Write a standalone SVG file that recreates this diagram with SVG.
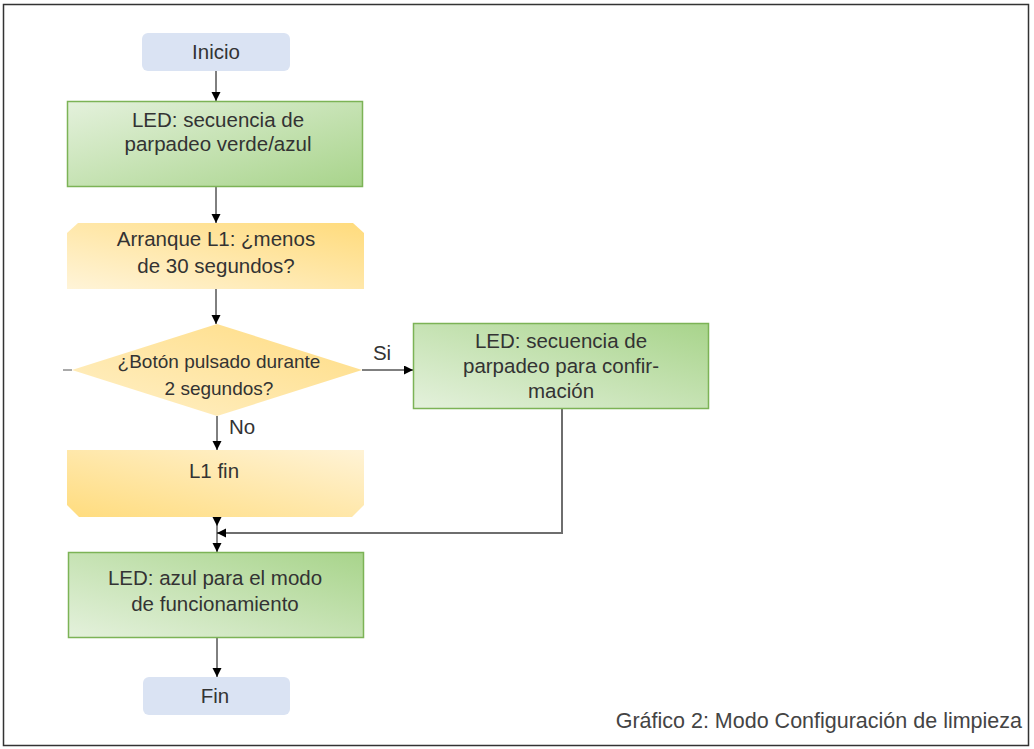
<svg xmlns="http://www.w3.org/2000/svg" width="1034" height="749" viewBox="0 0 1034 749">
<defs>
<style>
.t{font-family:"Liberation Sans",Arial,sans-serif;font-size:20.5px;fill:#333;text-anchor:middle}
.d{font-size:19px}
.term{fill:#dae3f3}
.green{stroke:#7cb356;stroke-width:1.5}
.ln{stroke:#000;stroke-width:1;fill:none}
.gl{stroke:#6e6e6e;stroke-width:2;fill:none}
</style>
<linearGradient id="g1" x1="0" y1="0" x2="1" y2="1">
<stop offset="0" stop-color="#e4f1dc"/><stop offset="1" stop-color="#a8d48b"/>
</linearGradient>
<linearGradient id="g2" x1="0" y1="1" x2="1" y2="0">
<stop offset="0" stop-color="#e4f1dc"/><stop offset="1" stop-color="#a8d48b"/>
</linearGradient>
<linearGradient id="y1" x1="0" y1="1" x2="1" y2="0">
<stop offset="0" stop-color="#fff4d8"/><stop offset="1" stop-color="#ffdb7c"/>
</linearGradient>
<linearGradient id="y2" x1="0" y1="1" x2="1" y2="0">
<stop offset="0" stop-color="#ffdc7e"/><stop offset="1" stop-color="#fff3d6"/>
</linearGradient>
<linearGradient id="y3" x1="0" y1="1" x2="1" y2="0">
<stop offset="0" stop-color="#fff0c8"/><stop offset="1" stop-color="#ffdc82"/>
</linearGradient>
<marker id="ah" markerWidth="10" markerHeight="10" refX="9" refY="4.5" orient="auto" markerUnits="userSpaceOnUse">
<path d="M0,0 L9,4.5 L0,9 Z" fill="#000"/>
</marker>
</defs>
<rect x="3.5" y="4.5" width="1025" height="741" fill="#fff" stroke="#333" stroke-width="1.5"/>

<g id="connectors">
<line class="ln" x1="216" y1="71" x2="216" y2="101" marker-end="url(#ah)"/>
<line class="ln" x1="216" y1="187" x2="216" y2="223" marker-end="url(#ah)"/>
<line class="ln" x1="216" y1="289" x2="216" y2="324" marker-end="url(#ah)"/>
<line class="ln" x1="362" y1="370" x2="413" y2="370" marker-end="url(#ah)"/>
<line class="ln" x1="217" y1="416" x2="217" y2="450" marker-end="url(#ah)"/>
<line class="ln" x1="217" y1="517" x2="217" y2="526" marker-end="url(#ah)"/>
<line x1="217" y1="526" x2="217" y2="543" stroke="#888" stroke-width="2"/>
<line class="ln" x1="217" y1="543" x2="217" y2="552" marker-end="url(#ah)"/>
<polyline class="gl" points="562,409 562,533 226,533"/>
<line class="ln" x1="226" y1="533" x2="217" y2="533" marker-end="url(#ah)"/>
<line class="ln" x1="217" y1="637" x2="217" y2="677" marker-end="url(#ah)"/>
<line x1="63" y1="370" x2="72" y2="370" stroke="#555" stroke-width="1"/>
<text class="t" x="382" y="360">Si</text>
<text class="t" x="242" y="434">No</text>
</g>

<g id="inicio">
<rect class="term" x="142" y="33" width="148" height="38" rx="6"/>
<text class="t" x="216" y="59">Inicio</text>
</g>

<g id="led1">
<rect class="green" x="67.5" y="101.5" width="295" height="85" fill="url(#g1)"/>
<text class="t" x="218" y="127">LED: secuencia de</text>
<text class="t" x="218" y="151">parpadeo verde/azul</text>
</g>

<g id="arranque">
<polygon points="67,233 78,223 353,223 364,233 364,289 67,289" fill="url(#y1)"/>
<text class="t" x="216" y="246">Arranque L1: ¿menos</text>
<text class="t" x="216" y="273">de 30 segundos?</text>
</g>

<g id="decision">
<polygon points="72,370 217,324 362,370 217,416" fill="url(#y3)"/>
<text class="t d" x="219" y="368">¿Botón pulsado durante</text>
<text class="t d" x="219" y="395">2 segundos?</text>
</g>

<g id="led-confirm">
<rect class="green" x="413.5" y="323.5" width="295" height="85" fill="url(#g2)"/>
<text class="t" x="561" y="348">LED: secuencia de</text>
<text class="t" x="561" y="373">parpadeo para confir-</text>
<text class="t" x="561" y="398">mación</text>
</g>

<g id="l1fin">
<polygon points="67,450 364,450 364,505 352,517 79,517 67,505" fill="url(#y2)"/>
<text class="t" x="214" y="478">L1 fin</text>
</g>

<g id="led-azul">
<rect class="green" x="68.5" y="552.5" width="295" height="85" fill="url(#g2)"/>
<text class="t" x="215" y="585">LED: azul para el modo</text>
<text class="t" x="215" y="611">de funcionamiento</text>
</g>

<g id="fin">
<rect class="term" x="143" y="677" width="147" height="38" rx="6"/>
<text class="t" x="215" y="703">Fin</text>
</g>

<text class="t" x="1022" y="728" style="text-anchor:end;fill:#444;font-size:21.5px">Gráfico 2: Modo Configuración de limpieza</text>
</svg>
